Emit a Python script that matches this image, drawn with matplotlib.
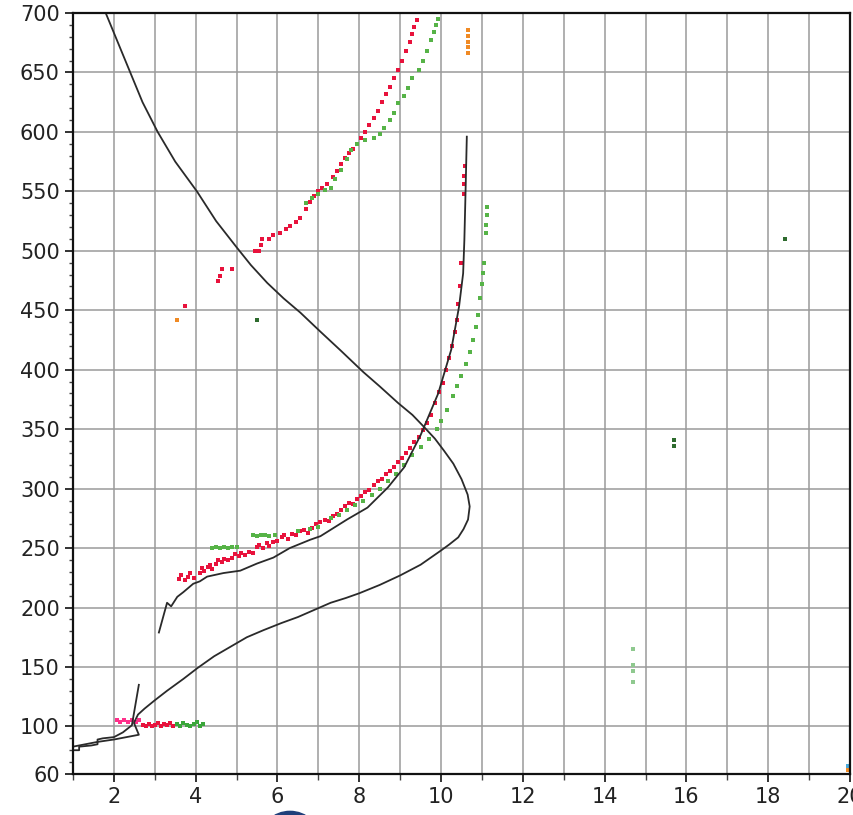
import matplotlib
matplotlib.use("Agg")
import matplotlib.pyplot as plt
from matplotlib.patches import Circle
from matplotlib.ticker import MultipleLocator, FixedLocator

# ---- data ----
curve_a_x = [1.8, 2.1, 2.4, 2.7, 3.07, 3.5, 4.03, 4.5, 5.0, 5.35, 5.75, 6.15, 6.56, 7.05, 7.55,
             8.1, 8.5, 8.95, 9.3, 9.58, 9.85, 10.07, 10.3, 10.5, 10.65, 10.7, 10.66, 10.55,
             10.42, 10.2, 10.0, 9.5, 9.0, 8.5, 8.0, 7.67, 7.3, 6.9, 6.5, 6.1, 5.66, 5.25, 4.85,
             4.45, 4.04, 3.7, 3.3, 3.0, 2.75, 2.59, 2.49, 2.61, 2.0, 1.6, 1.3, 1.0]
curve_a_y = [700, 675, 650, 625, 600, 575, 550, 525, 503, 488, 473, 460, 448, 432, 416,
             398, 386, 372, 362, 352, 342, 332, 321, 308, 295, 285, 274, 266,
             259, 253, 248, 236, 227, 219, 212, 208, 204, 198, 192, 187, 181, 175, 167,
             159, 149, 140, 130, 122, 115, 110, 103, 93, 89, 87, 85, 83]

curve_b1_x = [1.0, 1.15, 1.15, 1.45, 1.6, 1.6, 1.73, 2.0, 2.22, 2.44, 2.61]
curve_b1_y = [80, 80, 83, 84, 85, 89, 90, 91, 95, 101, 135]

curve_b2_x = [3.10, 3.30, 3.40, 3.55, 3.70, 3.94, 4.1, 4.28, 4.68, 5.09, 5.5, 5.9, 6.3, 6.8, 7.05,
              7.7, 8.2, 8.7, 9.1, 9.5, 9.93, 10.25, 10.44, 10.54, 10.57, 10.6, 10.63]
curve_b2_y = [179, 204, 201, 209, 213, 220, 222, 226, 229, 231, 237, 242, 250, 257, 260,
              274, 284, 301, 318, 345, 380, 417, 453, 481, 509, 551, 596]

red_low_pts = [(3.6, 224), (3.65, 227), (3.75, 223), (3.8, 226), (3.85, 229), (3.95, 225),
               (4.1, 229), (4.15, 233), (4.2, 231), (4.3, 234), (4.35, 236), (4.4, 232),
               (4.5, 237), (4.55, 240), (4.65, 238), (4.7, 241), (4.8, 240), (4.9, 242),
               (4.95, 245), (5.05, 243), (5.1, 246), (5.2, 244), (5.3, 247), (5.4, 246),
               (5.5, 251), (5.55, 253), (5.65, 250), (5.75, 254), (5.8, 252), (5.9, 255),
               (6.0, 256), (6.1, 259), (6.15, 261), (6.25, 258), (6.35, 262), (6.45, 261),
               (6.55, 264), (6.65, 265), (6.75, 263), (6.85, 267), (6.95, 270), (7.05, 272),
               (7.15, 274), (7.25, 273), (7.35, 277), (7.45, 279), (7.55, 282), (7.65, 285),
               (7.75, 288), (7.85, 287), (7.95, 291), (8.05, 294), (8.15, 297), (8.25, 299),
               (8.35, 303), (8.45, 306), (8.55, 308), (8.65, 312), (8.75, 315), (8.85, 318),
               (8.95, 322), (9.05, 326), (9.15, 330), (9.25, 334), (9.35, 339), (9.45, 343),
               (9.55, 349), (9.65, 355), (9.75, 362), (9.85, 372), (9.95, 381), (10.05, 389),
               (10.12, 400), (10.2, 410), (10.27, 420), (10.33, 432), (10.38, 442),
               (10.42, 455), (10.46, 470), (10.48, 490), (10.55, 548), (10.56, 556),
               (10.57, 563), (10.58, 571)]

red_up_pts = [(3.74, 454), (4.55, 475), (4.6, 479), (4.65, 485), (4.9, 485), (5.45, 500),
              (5.55, 500), (5.6, 505), (5.63, 510), (5.8, 510), (5.9, 513), (6.05, 515),
              (6.2, 518), (6.3, 521), (6.45, 524), (6.55, 528), (6.7, 535), (6.8, 541),
              (6.9, 546), (7.0, 550), (7.1, 553), (7.2, 556), (7.35, 562), (7.45, 567),
              (7.55, 573), (7.65, 578), (7.75, 582), (7.85, 586), (7.95, 590), (8.05, 595),
              (8.15, 600), (8.25, 606), (8.35, 612), (8.45, 618), (8.55, 625), (8.65, 632),
              (8.75, 638), (8.85, 645), (8.95, 652), (9.05, 660), (9.15, 668), (9.25, 676),
              (9.3, 682), (9.35, 688), (9.4, 694)]

green_low_pts = [(4.4, 250), (4.5, 251), (4.6, 250), (4.7, 251), (4.8, 250), (4.9, 251),
                 (5.0, 251), (5.4, 261), (5.5, 260), (5.6, 261), (5.7, 261), (5.8, 260),
                 (5.95, 261), (6.5, 264), (6.8, 266), (7.0, 268), (7.3, 275), (7.5, 278),
                 (7.7, 282), (7.9, 286), (8.1, 290), (8.3, 295), (8.5, 300), (8.7, 306),
                 (8.9, 312), (9.1, 320), (9.3, 328), (9.5, 335), (9.7, 342), (9.9, 350),
                 (10.0, 357), (10.15, 366), (10.3, 378), (10.4, 386), (10.5, 395),
                 (10.6, 405), (10.7, 415), (10.78, 425), (10.85, 436), (10.9, 446),
                 (10.95, 460), (11.0, 472), (11.03, 481), (11.06, 490), (11.1, 515),
                 (11.1, 522), (11.12, 530), (11.12, 537)]

green_up_pts = [(6.7, 540), (6.85, 544), (7.0, 548), (7.15, 551), (7.3, 553), (7.4, 560),
                (7.55, 568), (7.7, 577), (7.8, 585), (7.95, 590), (8.15, 593), (8.35, 595),
                (8.5, 598), (8.6, 603), (8.75, 610), (8.85, 616), (8.95, 624), (9.1, 630),
                (9.2, 637), (9.3, 645), (9.45, 652), (9.55, 660), (9.65, 668), (9.75, 677),
                (9.82, 684), (9.88, 690), (9.92, 695)]

pink_x = [2.07, 2.15, 2.25, 2.35, 2.45, 2.55, 2.62]
pink_y = [105, 104, 105, 104, 105, 104, 105]
red_bot_x = [2.7, 2.78, 2.85, 2.92, 3.0, 3.08, 3.15, 3.22, 3.3, 3.38, 3.45]
red_bot_y = [101, 100, 102, 100, 101, 103, 100, 102, 101, 103, 100]
green_bot_x = [3.55, 3.62, 3.7, 3.78, 3.85, 3.95, 4.02, 4.1, 4.18]
green_bot_y = [102, 100, 103, 101, 100, 102, 104, 100, 102]

orange_x = [10.65, 10.65, 10.65, 10.65, 10.65, 3.55, 19.95]
orange_y = [666, 671, 676, 681, 686, 442, 63]
dkgreen_x = [5.5, 15.7, 15.7, 18.4]
dkgreen_y = [442, 336, 341, 510]
ltgreen_x = [14.7, 14.7, 14.7, 14.7]
ltgreen_y = [137, 147, 152, 165]
blue_x = [19.95]
blue_y = [67]

x_major = [2, 4, 6, 8, 10, 12, 14, 16, 18, 20]
y_major = [60, 100, 150, 200, 250, 300, 350, 400, 450, 500, 550, 600, 650, 700]

# ---- figure ----
fig = plt.figure(figsize=(8.54, 8.15), dpi=100)
ax = fig.add_axes([73 / 854, 41 / 815, 777 / 854, 761 / 815])
ax.set_xlim(1, 20)
ax.set_ylim(60, 700)

ax.xaxis.set_major_locator(FixedLocator(x_major))
ax.xaxis.set_minor_locator(MultipleLocator(1))
ax.yaxis.set_major_locator(FixedLocator(y_major))
ax.yaxis.set_minor_locator(MultipleLocator(10))

ax.grid(which='major', axis='y', color='#9a9a9a', linewidth=1.1)
ax.grid(which='both', axis='x', color='#9a9a9a', linewidth=1.1)
ax.set_axisbelow(True)

ax.tick_params(which='major', direction='out', length=6, width=1.3, labelsize=15, colors='#222222')
ax.tick_params(which='minor', direction='out', length=4, width=1.0, colors='#444444')
ax.tick_params(axis='y', which='minor', length=3)
for s in ax.spines.values():
    s.set_linewidth(1.6)
    s.set_color('#111111')


def scatter(pts, color, ms):
    xs = [p[0] for p in pts]
    ys = [p[1] for p in pts]
    ax.plot(xs, ys, 's', color=color, ms=ms, mew=0)


red = '#e8123c'
green = '#56b347'
scatter(red_low_pts, red, 3.0)
scatter(red_up_pts, red, 3.0)
scatter(green_low_pts, green, 2.2)
scatter(green_up_pts, green, 2.2)
ax.plot(pink_x, pink_y, 's', color='#ff2f8a', ms=2.2, mew=0)
ax.plot(red_bot_x, red_bot_y, 's', color=red, ms=3.0, mew=0)
ax.plot(green_bot_x, green_bot_y, 's', color='#3aa63a', ms=3.0, mew=0)
ax.plot(orange_x, orange_y, 's', color='#f08a24', ms=2.2, mew=0)
ax.plot(dkgreen_x, dkgreen_y, 's', color='#2e6b2e', ms=2.8, mew=0)
ax.plot(ltgreen_x, ltgreen_y, 's', color='#8fc98f', ms=2.2, mew=0)
ax.plot(blue_x, blue_y, 's', color='#4aa8d8', ms=2.2, mew=0)

ax.plot(curve_a_x, curve_a_y, '-', color='#2a2a2a', lw=1.3)
ax.plot(curve_b1_x, curve_b1_y, '-', color='#2a2a2a', lw=1.3)
ax.plot(curve_b2_x, curve_b2_y, '-', color='#2a2a2a', lw=1.3)

# partial dark circle artifact at the bottom edge
circ = Circle((290 / 854, (815 - 840) / 815), 30 / 854, transform=fig.transFigure,
              color='#1f3f7a', clip_on=False)
fig.patches.append(circ)

fig.savefig('out.png', dpi=100)
